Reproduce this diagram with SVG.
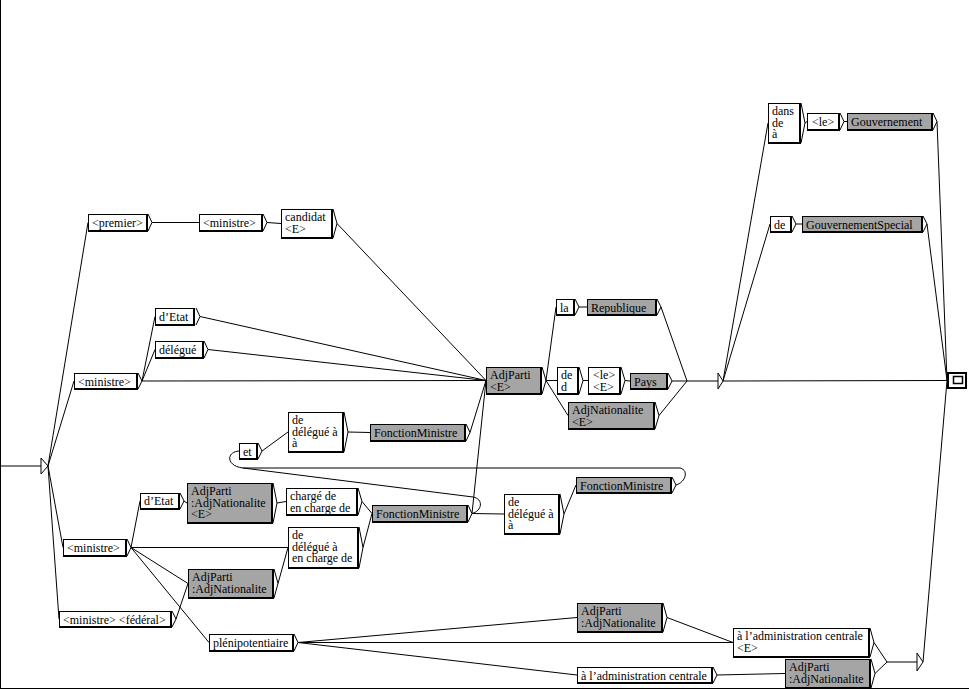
<svg xmlns="http://www.w3.org/2000/svg" width="969" height="690" viewBox="0 0 969 690" font-family="'Liberation Serif','Times New Roman','DejaVu Serif',serif" font-size="12">
<style>
.k{fill:#000}
.w{fill:#fff}
.g{fill:#a5a5a5}
.c{fill:none;stroke:#000;stroke-width:1}
.e{fill:none;stroke:#000;stroke-width:1}
.t{fill:#fff;stroke:#000;stroke-width:1}
text{font-family:'Liberation Serif','Times New Roman','DejaVu Serif',serif;font-size:12px;fill:#000}
</style>
<rect x="0" y="0" width="969" height="690" fill="#fff"/>
<g id="frame" class="e">
<path d="M0.5,0 V689 M0,688.5 H969"/>
</g>
<g id="connectors" class="e">
<path d="M48,466 L88,222.5"/>
<path d="M48,466 L74,381"/>
<path d="M48,466 L63,547.5"/>
<path d="M48,466 L59,619"/>
<path d="M152,222.5 L199,222.5"/>
<path d="M267,222.5 L281,223.5"/>
<path d="M337,223.5 L486,380.5"/>
<path d="M142,381 L155,316.5"/>
<path d="M142,381 L155,349.5"/>
<path d="M142,381 L486,380.5"/>
<path d="M200,316.5 L486,380.5"/>
<path d="M208,349.5 L486,380.5"/>
<path d="M262,451 L288,432"/>
<path d="M348,432 L370,432.5"/>
<path d="M470,432.5 L486,380.5"/>
<path d="M472,513.5 L486,380.5"/>
<path d="M546,380.5 L556,307"/>
<path d="M546,380.5 L557,380.5"/>
<path d="M546,380.5 L568,415.5"/>
<path d="M579,307 L587,307"/>
<path d="M583,380.5 L588,380.5"/>
<path d="M625,380.5 L630,381"/>
<path d="M661,307 L687,381"/>
<path d="M672,381 L687,381"/>
<path d="M659,415.5 L687,381"/>
<path d="M723,381 L768,123"/>
<path d="M723,381 L770,224"/>
<path d="M723,381 L947,380.5"/>
<path d="M805,123 L807,121.5"/>
<path d="M844,121.5 L847,121.5"/>
<path d="M937,121.5 L947,380.5"/>
<path d="M796,224 L802,224"/>
<path d="M927,224 L947,380.5"/>
<path d="M131,547.5 L140,501"/>
<path d="M131,547.5 L288,547.5"/>
<path d="M131,547.5 L188,583.5"/>
<path d="M131,547.5 L209,642.5"/>
<path d="M176,619 L188,583.5"/>
<path d="M184,501 L187,503"/>
<path d="M277,503 L286,501.5"/>
<path d="M278,583.5 L288,547.5"/>
<path d="M362,501.5 L372,513.5"/>
<path d="M363,547.5 L372,513.5"/>
<path d="M472,513.5 L504,514"/>
<path d="M564,514 L576,485"/>
<path d="M676,485 C686,482 689,470 680,468 L243,468 C226,466 226,452 239,451"/>
<path d="M472,513.5 C482,511 484,499 473,497 L243,468"/>
<path d="M298,642.5 L577,617.5"/>
<path d="M298,642.5 L733,642.5"/>
<path d="M298,642.5 L577,675"/>
<path d="M667,617.5 L733,642.5"/>
<path d="M717,675 L785,673.5"/>
<path d="M874,642.5 L887,662"/>
<path d="M875,673.5 L887,662"/>
<path d="M923,662 L947,380.5"/>
</g>
<g id="initial">
<path class="e" d="M0,466 H41"/>
<path class="t" d="M41,458 L48,466 L41,474 Z"/>
</g>
<g id="eps1">
<path class="e" d="M687,381 H718"/>
<path class="t" d="M718,373 L723,381 L718,389 Z"/>
</g>
<g id="eps2">
<path class="e" d="M887,662 H917"/>
<path class="t" d="M917,653 L923,662 L917,671 Z"/>
</g>
<g id="final">
<rect x="948" y="373" width="18" height="15" fill="#fff" stroke="#000" stroke-width="2"/>
<rect x="953.5" y="376.5" width="9" height="7" fill="#fff" stroke="#000" stroke-width="1.5"/>
</g>
<g id="n1"><rect class="k" x="88" y="214" width="60" height="18"/><rect class="w" x="89" y="215" width="57" height="15"/><path class="c" d="M148,214 L152,222.5 L148,231"/><text x="92" y="227">&lt;premier&gt;</text></g>
<g id="n2"><rect class="k" x="199" y="214" width="64" height="18"/><rect class="w" x="200" y="215" width="61" height="15"/><path class="c" d="M263,214 L267,222.5 L263,231"/><text x="203" y="227">&lt;ministre&gt;</text></g>
<g id="n3"><rect class="k" x="281" y="209" width="52" height="30"/><rect class="w" x="282" y="210" width="49" height="27"/><path class="c" d="M333,209 L337,223.5 L333,238"/><text x="285" y="221">candidat<tspan x="285" dy="11.5">&lt;E&gt;</tspan></text></g>
<g id="n4"><rect class="k" x="74" y="373" width="64" height="17"/><rect class="w" x="75" y="374" width="61" height="14"/><path class="c" d="M138,373 L142,381 L138,389"/><text x="78" y="385.5">&lt;ministre&gt;</text></g>
<g id="n5"><rect class="k" x="155" y="308" width="40" height="18"/><rect class="w" x="156" y="309" width="37" height="15"/><path class="c" d="M196,308 L200,316.5 L196,325"/><text x="159" y="320.5">d’Etat</text></g>
<g id="n6"><rect class="k" x="155" y="341" width="49" height="18"/><rect class="w" x="156" y="342" width="46" height="15"/><path class="c" d="M204,341 L208,349.5 L204,358"/><text x="159" y="353.5">délégué</text></g>
<g id="n7"><rect class="k" x="486" y="367" width="56" height="28"/><rect class="g" x="487" y="368" width="53" height="25"/><path class="c" d="M542,367 L546,380.5 L542,394"/><text x="490" y="379">AdjParti<tspan x="490" dy="11.5">&lt;E&gt;</tspan></text></g>
<g id="n8"><rect class="k" x="556" y="299" width="19" height="17"/><rect class="w" x="557" y="300" width="16" height="14"/><path class="c" d="M575,299 L579,307 L575,315"/><text x="560" y="311.5">la</text></g>
<g id="n9"><rect class="k" x="587" y="299" width="70" height="17"/><rect class="g" x="588" y="300" width="67" height="14"/><path class="c" d="M657,299 L661,307 L657,315"/><text x="591" y="311.5">Republique</text></g>
<g id="n10"><rect class="k" x="557" y="367" width="22" height="28"/><rect class="w" x="558" y="368" width="19" height="25"/><path class="c" d="M579,367 L583,380.5 L579,394"/><text x="561" y="379">de<tspan x="561" dy="11.5">d</tspan></text></g>
<g id="n11"><rect class="k" x="588" y="367" width="33" height="28"/><rect class="w" x="589" y="368" width="30" height="25"/><path class="c" d="M621,367 L625,380.5 L621,394"/><text x="593" y="379">&lt;le&gt;<tspan x="593" dy="11.5">&lt;E&gt;</tspan></text></g>
<g id="n12"><rect class="k" x="630" y="373" width="38" height="17"/><rect class="g" x="631" y="374" width="35" height="14"/><path class="c" d="M668,373 L672,381 L668,389"/><text x="634" y="385.5">Pays</text></g>
<g id="n13"><rect class="k" x="568" y="402" width="87" height="28"/><rect class="g" x="569" y="403" width="84" height="25"/><path class="c" d="M655,402 L659,415.5 L655,429"/><text x="572" y="414">AdjNationalite<tspan x="572" dy="11.5">&lt;E&gt;</tspan></text></g>
<g id="n14"><rect class="k" x="768" y="103" width="33" height="41"/><rect class="w" x="769" y="104" width="30" height="38"/><path class="c" d="M801,103 L805,123 L801,143"/><text x="772" y="115">dans<tspan x="772" dy="11.5">de</tspan><tspan x="772" dy="11.5">à</tspan></text></g>
<g id="n15"><rect class="k" x="807" y="113" width="33" height="18"/><rect class="w" x="808" y="114" width="30" height="15"/><path class="c" d="M840,113 L844,121.5 L840,130"/><text x="812" y="125.5">&lt;le&gt;</text></g>
<g id="n16"><rect class="k" x="847" y="113" width="86" height="18"/><rect class="g" x="848" y="114" width="83" height="15"/><path class="c" d="M933,113 L937,121.5 L933,130"/><text x="851" y="125.5">Gouvernement</text></g>
<g id="n17"><rect class="k" x="770" y="216" width="22" height="17"/><rect class="w" x="771" y="217" width="19" height="14"/><path class="c" d="M792,216 L796,224 L792,232"/><text x="774" y="228.5">de</text></g>
<g id="n18"><rect class="k" x="802" y="216" width="121" height="17"/><rect class="g" x="803" y="217" width="118" height="14"/><path class="c" d="M923,216 L927,224 L923,232"/><text x="806" y="228.5">GouvernementSpecial</text></g>
<g id="n19"><rect class="k" x="239" y="443" width="19" height="17"/><rect class="w" x="240" y="444" width="16" height="14"/><path class="c" d="M258,443 L262,451 L258,459"/><text x="243" y="455.5">et</text></g>
<g id="n20"><rect class="k" x="288" y="412" width="56" height="41"/><rect class="w" x="289" y="413" width="53" height="38"/><path class="c" d="M344,412 L348,432 L344,452"/><text x="292" y="424">de<tspan x="292" dy="11.5">délégué à</tspan><tspan x="292" dy="11.5">à</tspan></text></g>
<g id="n21"><rect class="k" x="370" y="424" width="96" height="18"/><rect class="g" x="371" y="425" width="93" height="15"/><path class="c" d="M466,424 L470,432.5 L466,441"/><text x="374" y="436.5">FonctionMinistre</text></g>
<g id="n22"><rect class="k" x="140" y="493" width="40" height="17"/><rect class="w" x="141" y="494" width="37" height="14"/><path class="c" d="M180,493 L184,501 L180,509"/><text x="144" y="505">d’Etat</text></g>
<g id="n23"><rect class="k" x="187" y="483" width="86" height="41"/><rect class="g" x="188" y="484" width="83" height="38"/><path class="c" d="M273,483 L277,503 L273,523"/><text x="191" y="495">AdjParti<tspan x="191" dy="11.5">:AdjNationalite</tspan><tspan x="191" dy="11.5">&lt;E&gt;</tspan></text></g>
<g id="n24"><rect class="k" x="286" y="488" width="72" height="28"/><rect class="w" x="287" y="489" width="69" height="25"/><path class="c" d="M358,488 L362,501.5 L358,515"/><text x="290" y="500">chargé de<tspan x="290" dy="11.5">en charge de</tspan></text></g>
<g id="n25"><rect class="k" x="63" y="539" width="64" height="18"/><rect class="w" x="64" y="540" width="61" height="15"/><path class="c" d="M127,539 L131,547.5 L127,556"/><text x="67" y="552">&lt;ministre&gt;</text></g>
<g id="n26"><rect class="k" x="288" y="527" width="71" height="42"/><rect class="w" x="289" y="528" width="68" height="39"/><path class="c" d="M359,527 L363,547.5 L359,568"/><text x="292" y="539">de<tspan x="292" dy="11.5">délégué à</tspan><tspan x="292" dy="11.5">en charge de</tspan></text></g>
<g id="n27"><rect class="k" x="188" y="569" width="86" height="30"/><rect class="g" x="189" y="570" width="83" height="27"/><path class="c" d="M274,569 L278,583.5 L274,598"/><text x="192" y="581">AdjParti<tspan x="192" dy="11.5">:AdjNationalite</tspan></text></g>
<g id="n28"><rect class="k" x="59" y="611" width="113" height="17"/><rect class="w" x="60" y="612" width="110" height="14"/><path class="c" d="M172,611 L176,619 L172,627"/><text x="63" y="623.5">&lt;ministre&gt; &lt;fédéral&gt;</text></g>
<g id="n29"><rect class="k" x="209" y="634" width="85" height="18"/><rect class="w" x="210" y="635" width="82" height="15"/><path class="c" d="M294,634 L298,642.5 L294,651"/><text x="213" y="647">plénipotentiaire</text></g>
<g id="n30"><rect class="k" x="372" y="505" width="96" height="18"/><rect class="g" x="373" y="506" width="93" height="15"/><path class="c" d="M468,505 L472,513.5 L468,522"/><text x="376" y="517.5">FonctionMinistre</text></g>
<g id="n31"><rect class="k" x="504" y="494" width="56" height="41"/><rect class="w" x="505" y="495" width="53" height="38"/><path class="c" d="M560,494 L564,514 L560,534"/><text x="508" y="506">de<tspan x="508" dy="11.5">délégué à</tspan><tspan x="508" dy="11.5">à</tspan></text></g>
<g id="n32"><rect class="k" x="576" y="477" width="96" height="17"/><rect class="g" x="577" y="478" width="93" height="14"/><path class="c" d="M672,477 L676,485 L672,493"/><text x="580" y="489.5">FonctionMinistre</text></g>
<g id="n33"><rect class="k" x="577" y="603" width="86" height="30"/><rect class="g" x="578" y="604" width="83" height="27"/><path class="c" d="M663,603 L667,617.5 L663,632"/><text x="581" y="615">AdjParti<tspan x="581" dy="11.5">:AdjNationalite</tspan></text></g>
<g id="n34"><rect class="k" x="733" y="628" width="137" height="30"/><rect class="w" x="734" y="629" width="134" height="27"/><path class="c" d="M870,628 L874,642.5 L870,657"/><text x="737" y="640">à l’administration centrale<tspan x="737" dy="11.5">&lt;E&gt;</tspan></text></g>
<g id="n35"><rect class="k" x="577" y="667" width="136" height="17"/><rect class="w" x="578" y="668" width="133" height="14"/><path class="c" d="M713,667 L717,675 L713,683"/><text x="581" y="679.5">à l’administration centrale</text></g>
<g id="n36"><rect class="k" x="785" y="659" width="86" height="30"/><rect class="g" x="786" y="660" width="83" height="27"/><path class="c" d="M871,659 L875,673.5 L871,688"/><text x="789" y="671">AdjParti<tspan x="789" dy="11.5">:AdjNationalite</tspan></text></g>
</svg>
